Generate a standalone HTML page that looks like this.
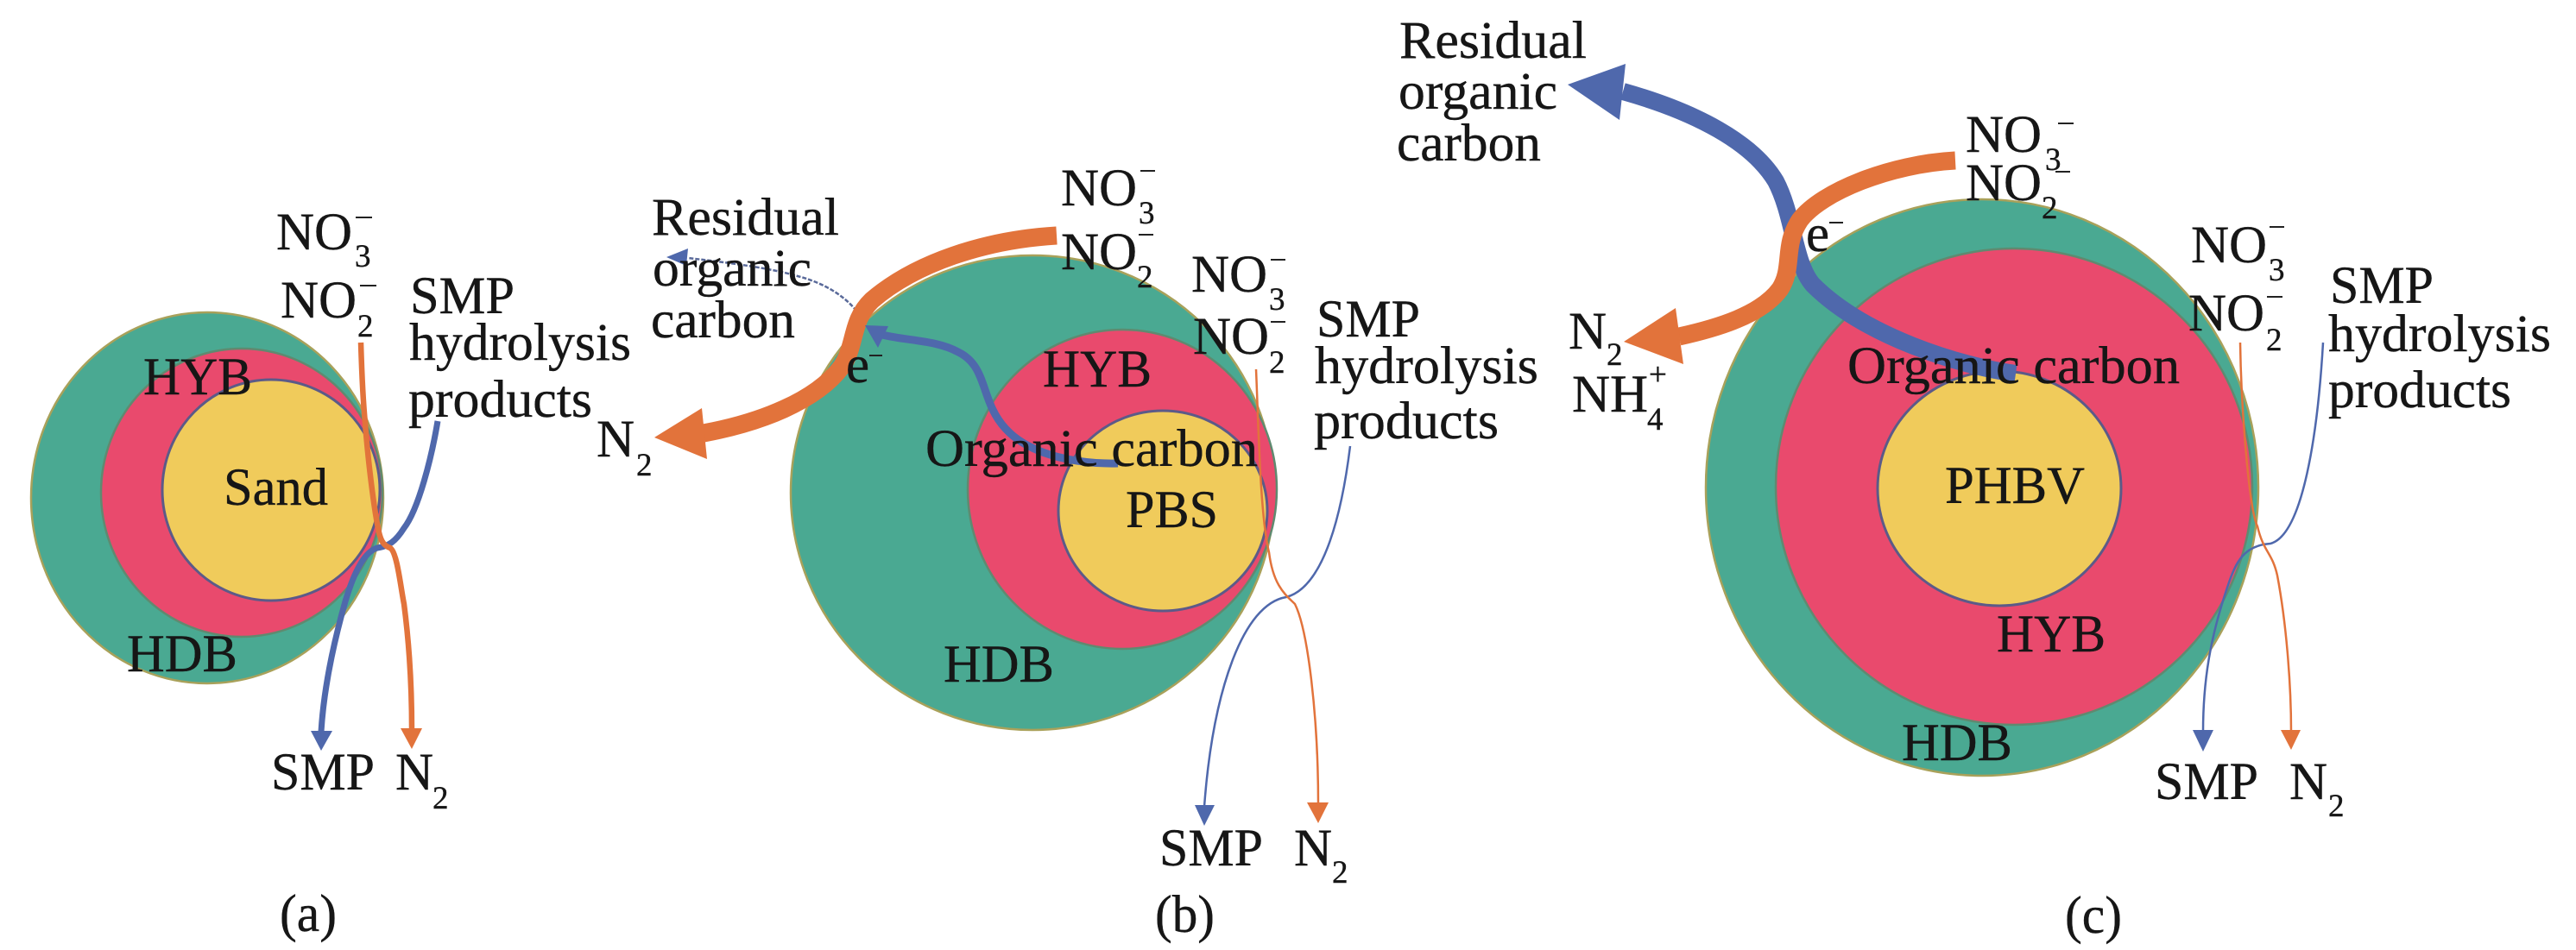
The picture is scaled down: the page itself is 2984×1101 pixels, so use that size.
<!DOCTYPE html>
<html><head><meta charset="utf-8"><style>
html,body{margin:0;padding:0;background:#fff}
svg{display:block}
text{font-family:"Liberation Serif",serif;fill:#161616;stroke:#161616;stroke-width:.4;font-size:61px}
.s{font-size:37px}
.g{fill:#4aa992;stroke:#a9a15a;stroke-width:2.5}
.r{fill:#e94a6d;stroke:#5f8a70;stroke-width:2.5}
.y{fill:#f0cb5b;stroke:#5c5a88;stroke-width:3}
.o{fill:none;stroke:#e2733b;stroke-linecap:butt}
.b{fill:none;stroke:#4f68ac;stroke-linecap:butt}
.m{stroke:#222;stroke-width:2}
</style></head><body>
<svg xmlns="http://www.w3.org/2000/svg" width="2984" height="1101" viewBox="0 0 2984 1101">
<rect width="2984" height="1101" fill="#fff"/>

<!-- panel a -->
<ellipse class="g" cx="240" cy="577" rx="204" ry="215"/>
<ellipse class="r" cx="280" cy="571" rx="163" ry="167"/>
<ellipse class="y" cx="314" cy="568" rx="126" ry="128"/>
<path class="b" stroke-width="7" d="M507 488C500 530 485 590 468 612C458 628 450 633 437 635C420 640 408 670 400 697C385 750 375 800 372 848"/>
<polygon fill="#4f68ac" points="360,847 385,847 372,870"/>
<path class="o" stroke-width="6.5" d="M418 397C419 430 421 470 423 490C426 530 432 580 437 607C440 625 443 632 452 635C460 640 464 680 468 700C474 746 477 800 477 846"/>
<polygon fill="#e2733b" points="464,844 489,844 477,868"/>

<!-- panel b -->
<ellipse class="g" cx="1196" cy="571" rx="280" ry="275"/>
<ellipse class="r" cx="1300" cy="567" rx="179" ry="185"/>
<ellipse class="y" cx="1347" cy="592" rx="121" ry="116"/>
<path fill="none" stroke="#5a6a9a" stroke-width="2.5" stroke-dasharray="5 2" d="M1000 372C985 345 955 328 924 320C890 310 840 304 797 299"/>
<polygon fill="#4f68ac" points="772,298 797,288 795,308"/>
<path class="o" stroke-width="21" d="M1224 273C1140 278 1060 305 1010 348C985 372 992 400 975 425C945 465 880 490 815 502"/>
<polygon fill="#e2733b" points="758,507 813,473 819,532"/>
<path class="b" stroke-width="9" d="M1295 537C1255 538 1195 530 1165 497C1135 465 1145 425 1110 408C1085 394 1050 395 1022 388"/>
<polygon fill="#4f68ac" points="1002,377 1029,378 1017,403"/>
<path class="b" stroke-width="2.5" d="M1564 517C1555 590 1535 680 1490 692C1440 700 1405 800 1395 935"/>
<polygon fill="#4f68ac" points="1384,933 1407,933 1395,957"/>
<path class="o" stroke-width="2.5" d="M1455 428C1458 500 1460 600 1470 640C1475 680 1490 690 1500 700C1515 730 1527 830 1527 932"/>
<polygon fill="#e2733b" points="1514,930 1539,930 1527,954"/>

<!-- panel c -->
<ellipse class="g" cx="2296" cy="565" rx="320" ry="334"/>
<ellipse class="r" cx="2333" cy="564" rx="276" ry="276"/>
<ellipse class="y" cx="2316" cy="566" rx="141" ry="136"/>
<path class="b" stroke-width="20" d="M2335 433C2270 424 2160 390 2100 330C2078 305 2078 250 2057 210C2030 165 1965 130 1880 106"/>
<polygon fill="#4f68ac" points="1816,98 1883,74 1876,139"/>
<path class="o" stroke-width="21" d="M2265 186C2190 190 2110 222 2085 255C2065 285 2078 310 2062 335C2040 365 1990 380 1945 390"/>
<polygon fill="#e2733b" points="1881,396 1941,357 1950,422"/>
<path class="b" stroke-width="2.5" d="M2691 397C2685 500 2668 620 2630 630C2600 632 2590 650 2580 681C2560 740 2552 790 2552 848"/>
<polygon fill="#4f68ac" points="2540,846 2564,846 2552,871"/>
<path class="o" stroke-width="2.5" d="M2595 397C2596 470 2605 590 2615 610C2622 640 2632 640 2638 667C2648 720 2654 790 2654 848"/>
<polygon fill="#e2733b" points="2642,846 2665,846 2654,869"/>

<!-- labels a -->
<text x="320" y="289">NO</text><text class="s" x="411" y="309">3</text><line class="m" x1="412" y1="252" x2="431" y2="252"/>
<text x="325" y="368">NO</text><text class="s" x="414" y="390">2</text><line class="m" x1="417" y1="331" x2="436" y2="331"/>
<text x="475" y="363" textLength="121" lengthAdjust="spacingAndGlyphs">SMP</text>
<text x="474" y="417" textLength="257" lengthAdjust="spacingAndGlyphs">hydrolysis</text>
<text x="473" y="483" textLength="213" lengthAdjust="spacingAndGlyphs">products</text>
<text x="166" y="457" textLength="126" lengthAdjust="spacingAndGlyphs">HYB</text>
<text x="259" y="585" textLength="121" lengthAdjust="spacingAndGlyphs">Sand</text>
<text x="147" y="778" textLength="128" lengthAdjust="spacingAndGlyphs">HDB</text>
<text x="314" y="915" textLength="120" lengthAdjust="spacingAndGlyphs">SMP</text>
<text x="458" y="915">N</text><text class="s" x="501" y="937">2</text>
<text x="324" y="1079" textLength="66" lengthAdjust="spacingAndGlyphs">(a)</text>

<!-- labels b -->
<text x="755" y="272" textLength="217" lengthAdjust="spacingAndGlyphs">Residual</text>
<text x="756" y="331" textLength="184" lengthAdjust="spacingAndGlyphs">organic</text>
<text x="754" y="391" textLength="167" lengthAdjust="spacingAndGlyphs">carbon</text>
<text x="691" y="529">N</text><text class="s" x="737" y="551">2</text>
<text x="1229" y="238">NO</text><text class="s" x="1319" y="259">3</text><line class="m" x1="1321" y1="198" x2="1338" y2="198"/>
<text x="1229" y="312">NO</text><text class="s" x="1317" y="333">2</text><line class="m" x1="1319" y1="272" x2="1336" y2="272"/>
<text x="1380" y="338">NO</text><text class="s" x="1470" y="359">3</text><line class="m" x1="1472" y1="301" x2="1489" y2="301"/>
<text x="1382" y="410">NO</text><text class="s" x="1470" y="432">2</text><line class="m" x1="1472" y1="373" x2="1489" y2="373"/>
<text x="1525" y="390" textLength="120" lengthAdjust="spacingAndGlyphs">SMP</text>
<text x="1523" y="444" textLength="259" lengthAdjust="spacingAndGlyphs">hydrolysis</text>
<text x="1522" y="508" textLength="214" lengthAdjust="spacingAndGlyphs">products</text>
<text x="980" y="443">e</text><line class="m" x1="1007" y1="412" x2="1022" y2="412"/>
<text x="1208" y="448" textLength="126" lengthAdjust="spacingAndGlyphs">HYB</text>
<text x="1072" y="540" textLength="385" lengthAdjust="spacingAndGlyphs">Organic carbon</text>
<text x="1304" y="611" textLength="107" lengthAdjust="spacingAndGlyphs">PBS</text>
<text x="1093" y="790" textLength="128" lengthAdjust="spacingAndGlyphs">HDB</text>
<text x="1343" y="1003" textLength="120" lengthAdjust="spacingAndGlyphs">SMP</text>
<text x="1499" y="1003">N</text><text class="s" x="1543" y="1023">2</text>
<text x="1338" y="1080" textLength="69" lengthAdjust="spacingAndGlyphs">(b)</text>

<!-- labels c -->
<text x="1621" y="67" textLength="217" lengthAdjust="spacingAndGlyphs">Residual</text>
<text x="1620" y="126" textLength="184" lengthAdjust="spacingAndGlyphs">organic</text>
<text x="1618" y="186" textLength="167" lengthAdjust="spacingAndGlyphs">carbon</text>
<text x="2277" y="176">NO</text><text class="s" x="2369" y="197">3</text><line class="m" x1="2384" y1="143" x2="2402" y2="143"/>
<text x="2277" y="232">NO</text><text class="s" x="2365" y="253">2</text><line class="m" x1="2381" y1="199" x2="2398" y2="199"/>
<text x="2092" y="291">e</text><line class="m" x1="2119" y1="258" x2="2135" y2="258"/>
<text x="1817" y="404">N</text><text class="s" x="1861" y="423">2</text>
<text x="1821" y="477">NH</text><text class="s" x="1908" y="498">4</text><text class="s" x="1910" y="446">+</text>
<text x="2140" y="444" textLength="385" lengthAdjust="spacingAndGlyphs">Organic carbon</text>
<text x="2253" y="583" textLength="162" lengthAdjust="spacingAndGlyphs">PHBV</text>
<text x="2313" y="755" textLength="126" lengthAdjust="spacingAndGlyphs">HYB</text>
<text x="2203" y="881" textLength="128" lengthAdjust="spacingAndGlyphs">HDB</text>
<text x="2496" y="926" textLength="120" lengthAdjust="spacingAndGlyphs">SMP</text>
<text x="2652" y="926">N</text><text class="s" x="2697" y="946">2</text>
<text x="2538" y="304">NO</text><text class="s" x="2628" y="325">3</text><line class="m" x1="2629" y1="263" x2="2646" y2="263"/>
<text x="2535" y="383">NO</text><text class="s" x="2625" y="406">2</text><line class="m" x1="2626" y1="344" x2="2644" y2="344"/>
<text x="2699" y="351" textLength="120" lengthAdjust="spacingAndGlyphs">SMP</text>
<text x="2697" y="407" textLength="258" lengthAdjust="spacingAndGlyphs">hydrolysis</text>
<text x="2697" y="472" textLength="212" lengthAdjust="spacingAndGlyphs">products</text>
<text x="2392" y="1081" textLength="66" lengthAdjust="spacingAndGlyphs">(c)</text>
</svg>
</body></html>
